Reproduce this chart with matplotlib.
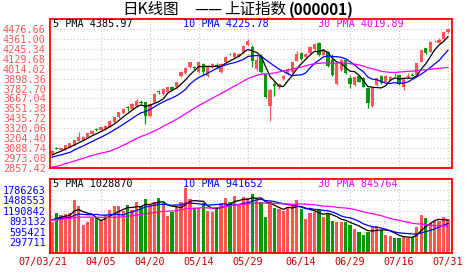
import matplotlib
matplotlib.use('Agg')
import matplotlib.pyplot as plt
import matplotlib.transforms as mtransforms
import numpy as np
import pandas as pd

# trading days shown, 2007-03-21 .. 2007-07-31
tick_index = [0, 11, 22, 33, 44, 56, 67, 78, 89]
tick_dates = ['07/03/21', '04/05', '04/20', '05/14', '05/29', '06/14', '06/29', '07/16', '07/31']

# closes / volumes before the window (only used to start the moving averages)
pre_close = [2786, 2673, 2612, 2675, 2730, 2745, 2716, 2771, 2826, 2885,
             2930, 2998, 3040, 2772, 2881, 2797, 2831, 2785, 2838, 2882,
             2937, 2958, 2980, 3012, 2906, 2960, 2990, 3000, 3030]
pre_volume = [820000, 760000, 700000, 780000, 850000, 880000, 800000, 900000, 950000, 1000000,
              1050000, 1100000, 1200000, 1350000, 1150000, 900000, 850000, 800000, 820000, 860000,
              900000, 880000, 920000, 980000, 960000, 940000, 900000, 950000, 1000000]

opens = [3020, 3090, 3071, 3078, 3105, 3125, 3175, 3187, 3210, 3253,
         3305, 3300, 3311, 3338, 3389, 3447, 3494, 3562, 3544, 3575,
         3630, 3622, 3466, 3622, 3752, 3719, 3746, 3804, 3796, 3932,
         3963, 4029, 4030, 3971, 4068, 3930, 4030, 4060, 3980, 4090,
         4190, 4150, 4160, 4210, 4290, 4262, 4015, 4165, 3952, 3580,
         3840, 3800, 3893, 3952, 3971, 4107, 4195, 4150, 4200, 4239,
         4317, 4173, 4212, 4120, 3835, 3998, 4115, 3900, 3824, 3930,
         3900, 3785, 3579, 3824, 3928, 3862, 3882, 3945, 3940, 3804,
         3913, 3935, 3940, 4095, 4251, 4212, 4335, 4317, 4355, 4441]
highs = [3066, 3098, 3092, 3130, 3150, 3188, 3272, 3225, 3268, 3298,
         3318, 3345, 3356, 3412, 3452, 3510, 3560, 3585, 3610, 3660,
         3650, 3630, 3610, 3725, 3770, 3785, 3800, 3810, 3860, 3990,
         4030, 4095, 4045, 4095, 4075, 4050, 4080, 4075, 4080, 4160,
         4200, 4210, 4200, 4290, 4355, 4290, 4160, 4180, 3960, 3780,
         3860, 3850, 3945, 4020, 4095, 4215, 4205, 4195, 4275, 4305,
         4330, 4240, 4225, 4190, 4085, 4125, 4120, 3940, 3930, 3940,
         3915, 3790, 3800, 3910, 3935, 3935, 3930, 3960, 3945, 3895,
         3965, 3965, 4080, 4235, 4260, 4340, 4350, 4370, 4445, 4480]
lows = [3012, 3075, 3065, 3072, 3100, 3120, 3170, 3180, 3205, 3248,
        3290, 3295, 3305, 3333, 3385, 3442, 3488, 3520, 3538, 3570,
        3600, 3369, 3455, 3615, 3720, 3710, 3740, 3760, 3790, 3920,
        3955, 4020, 4000, 3965, 3940, 3920, 4020, 4020, 3960, 4080,
        4170, 4140, 4150, 4200, 4280, 4030, 3990, 3960, 3670, 3410,
        3700, 3780, 3885, 3945, 3965, 4100, 4120, 4140, 4190, 4230,
        4165, 4165, 4035, 3930, 3820, 3990, 3950, 3785, 3815, 3855,
        3795, 3560, 3565, 3815, 3835, 3855, 3875, 3930, 3825, 3765,
        3905, 3925, 3935, 4090, 4185, 4205, 4325, 4310, 4350, 4435]
closes = [3059, 3084, 3086, 3125, 3144, 3183, 3214, 3214, 3261, 3292,
          3300, 3338, 3350, 3408, 3447, 3505, 3544, 3552, 3602, 3640,
          3620, 3466, 3602, 3719, 3746, 3777, 3796, 3769, 3855, 3971,
          4022, 4088, 4018, 4088, 3975, 4040, 4065, 4050, 4072, 4150,
          4182, 4200, 4190, 4280, 4335, 4100, 4110, 3971, 3680, 3767,
          3810, 3840, 3932, 4010, 4088, 4190, 4130, 4190, 4270, 4297,
          4173, 4231, 4040, 3940, 4076, 4115, 3959, 3830, 3920, 3860,
          3800, 3618, 3790, 3901, 3843, 3928, 3921, 3940, 3831, 3890,
          3930, 3925, 4076, 4231, 4192, 4330, 4340, 4350, 4440, 4471]
volumes = [882000, 1136000, 1070000, 1098000, 1117000, 1493000, 1324000, 789000, 882000, 995000,
           976000, 929000, 1070000, 1211000, 1324000, 1324000, 1192000, 1352000, 1211000, 1446000,
           1324000, 1511000, 1324000, 1427000, 1558000, 1399000, 1051000, 1164000, 1333000, 1427000,
           1840000, 1511000, 1277000, 1258000, 1399000, 1192000, 1164000, 1258000, 1399000, 1540000,
           1446000, 1615000, 1380000, 1586000, 1540000, 1652000, 1540000, 1446000, 1023000, 1427000,
           1277000, 1239000, 1183000, 1305000, 1324000, 1493000, 1239000, 957000, 1117000, 1145000,
           1211000, 1023000, 1098000, 911000, 864000, 864000, 882000, 789000, 667000, 601000,
           507000, 582000, 742000, 760000, 648000, 507000, 479000, 432000, 432000, 460000,
           432000, 460000, 742000, 1070000, 995000, 854000, 911000, 911000, 1004000, 957000]

price_ticks = [2857.42, 2973.08, 3088.74, 3204.40, 3320.06, 3435.72, 3551.38, 3667.04,
               3782.70, 3898.36, 4014.02, 4129.68, 4245.34, 4361.00, 4476.66]
volume_ticks = [297711, 595421, 893132, 1190842, 1488553, 1786263]

price_ma_text = ['5 PMA 4385.97', '10 PMA 4225.78', '30 PMA 4019.89']
volume_ma_text = ['5 PMA 1028870', '10 PMA 941652', '30 PMA 845764']

UP = '#ff5555'
DOWN = '#009900'
MA_COLORS = ['black', '#0000ff', '#ff00ff']
MONO = 'DejaVu Sans Mono'
CJK = ['Noto Sans CJK SC', 'DejaVu Sans']

df = pd.DataFrame({'open': opens, 'high': highs, 'low': lows, 'close': closes, 'volume': volumes})
x = np.arange(len(df))
all_close = pd.Series(pre_close + closes)
all_vol = pd.Series(pre_volume + volumes)
n_pre = len(pre_close)

fig = plt.figure(figsize=(4.72, 2.73), dpi=100)
W, H = 472.0, 273.0


def px_axes(left, top, right, bottom):
    return fig.add_axes([left / W, 1 - bottom / H, (right - left) / W, (bottom - top) / H])


axp = px_axes(50, 19, 452, 168)
axv = px_axes(50, 179, 452, 253)

for ax in (axp, axv):
    ax.set_xlim(-0.45, 89.9)
    ax.set_xticks(tick_index)
    ax.grid(True, color='#c8c8c8', ls=(0, (1, 2)), lw=0.8)
    ax.set_axisbelow(True)
    ax.tick_params(length=0, pad=3)
    for side in ['top', 'right', 'bottom']:
        ax.spines[side].set_color('#ff0000')
        ax.spines[side].set_linewidth(1.3)
    ax.spines['left'].set_color('#ff0000')
    ax.spines['left'].set_linestyle((0, (1, 1)))
    ax.spines['left'].set_linewidth(1.3)

# candles
up = df.close >= df.open
colors = np.where(up, UP, DOWN)
body_lo = np.minimum(df.open, df.close)
body_h = np.maximum(np.abs(df.close - df.open), 6)
axp.vlines(x, df.low, df.high, colors=colors, lw=0.9)
axp.bar(x, body_h, bottom=body_lo, width=0.74, color=colors, linewidth=0)

for n, c in zip([5, 10, 30], MA_COLORS):
    ma = all_close.rolling(n).mean().values[n_pre:]
    axp.plot(x, ma, color=c, lw=0.9)

axp.set_ylim(2857.42, 4592.32)
axp.set_yticks(price_ticks)
axp.set_yticklabels(['{0:.2f}'.format(t) for t in price_ticks], family=MONO, fontsize=7.3, color='#ff5555')
axp.set_xticklabels([])

# volume
axv.bar(x, df.volume, width=0.74, color=colors, linewidth=0)
for n, c in zip([5, 10, 30], MA_COLORS):
    ma = all_vol.rolling(n).mean().values[n_pre:]
    axv.plot(x, ma, color=c, lw=0.9)
axv.set_ylim(0, 7 * 297711)
axv.set_yticks(volume_ticks)
axv.set_yticklabels([str(t) for t in volume_ticks], family=MONO, fontsize=7.3, color='#0000ff')
axv.set_xticklabels(tick_dates, family=MONO, fontsize=7.3, color='#cc0000')
first = axv.get_xticklabels()[0]
first.set_transform(first.get_transform() + mtransforms.ScaledTranslation(-9 / 100, 0, fig.dpi_scale_trans))

# moving-average captions
for texts, ypx in [(price_ma_text, 24), (volume_ma_text, 184)]:
    for t, c, xpx in zip(texts, MA_COLORS, [53, 183, 318]):
        fig.text(xpx / W, 1 - ypx / H, t, color=c, family=MONO, fontsize=7.3, va='center', ha='left')

# title
ty = 1 - 9.5 / H
fig.text(122 / W, ty, '日K线图', ha='left', va='center', family=CJK, fontsize=11.2)
fig.text(194 / W, ty, '——', ha='left', va='center', family=CJK, fontsize=11.2)
fig.text(224 / W, ty, '上证指数', ha='left', va='center', family=CJK, fontsize=11.2)
fig.text(289 / W, ty, '(000001)', ha='left', va='center', family=CJK, fontsize=11, weight='bold')

fig.savefig('out.png', dpi=100, facecolor='white')
